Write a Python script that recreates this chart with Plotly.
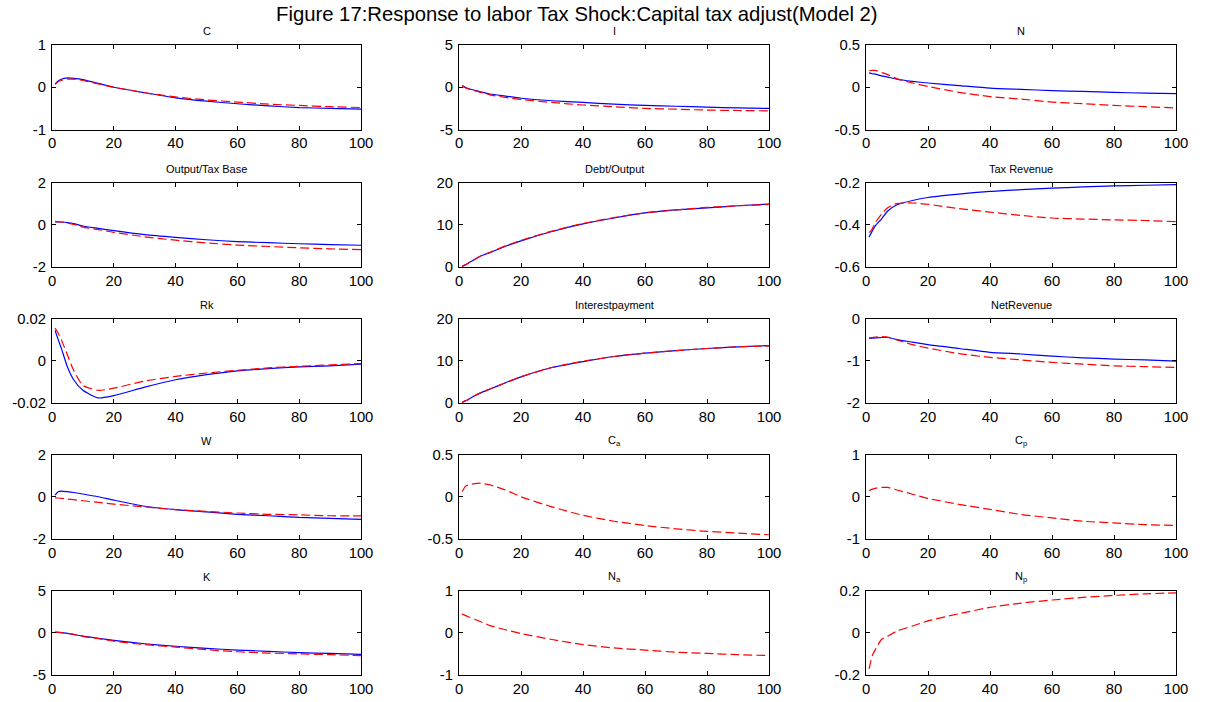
import plotly.graph_objects as go

periods = [1, 2, 3, 5, 7, 10, 15, 20, 30, 40, 50, 60, 70, 80, 90, 100]

titles = ["C", "I", "N",
          "Output/Tax Base", "Debt/Output", "Tax Revenue",
          "Rk", "Interestpayment", "NetRevenue",
          "W", "C<sub>a</sub>", "C<sub>p</sub>",
          "K", "N<sub>a</sub>", "N<sub>p</sub>"]

c_blue = [0.08, 0.15, 0.19, 0.22, 0.21, 0.18, 0.09, 0.0, -0.13, -0.25, -0.33, -0.39, -0.44, -0.48, -0.50, -0.52]
c_red = [0.07, 0.13, 0.16, 0.19, 0.19, 0.16, 0.08, 0.0, -0.13, -0.23, -0.30, -0.35, -0.40, -0.43, -0.46, -0.48]
i_blue = [0.2, 0.0, -0.15, -0.35, -0.55, -0.8, -1.05, -1.3, -1.6, -1.8, -2.0, -2.15, -2.25, -2.35, -2.45, -2.5]
i_red = [0.15, -0.05, -0.2, -0.4, -0.6, -0.9, -1.2, -1.45, -1.8, -2.1, -2.3, -2.5, -2.6, -2.7, -2.75, -2.8]
n_blue = [0.17, 0.16, 0.155, 0.135, 0.12, 0.095, 0.07, 0.05, 0.02, -0.01, -0.025, -0.04, -0.05, -0.06, -0.07, -0.075]
n_red = [0.195, 0.2, 0.2, 0.175, 0.15, 0.10, 0.05, 0.01, -0.06, -0.11, -0.14, -0.175, -0.195, -0.215, -0.23, -0.245]
otb_blue = [0.13, 0.14, 0.13, 0.1, 0.05, -0.06, -0.17, -0.28, -0.47, -0.6, -0.71, -0.8, -0.85, -0.9, -0.94, -0.97]
otb_red = [0.16, 0.15, 0.13, 0.08, 0.02, -0.11, -0.23, -0.36, -0.57, -0.73, -0.86, -0.96, -1.03, -1.09, -1.14, -1.18]
debt_blue = [0.15, 0.5, 0.9, 1.8, 2.6, 3.4, 4.9, 6.2, 8.4, 10.2, 11.6, 12.8, 13.5, 14.0, 14.5, 14.9]
debt_red = [0.15, 0.5, 0.9, 1.8, 2.6, 3.5, 5.0, 6.3, 8.5, 10.3, 11.7, 12.8, 13.5, 14.1, 14.5, 14.8]
tax_blue = [-0.458, -0.43, -0.405, -0.373, -0.335, -0.305, -0.285, -0.271, -0.255, -0.242, -0.234, -0.227, -0.221, -0.216, -0.213, -0.21]
tax_red = [-0.437, -0.42, -0.39, -0.35, -0.32, -0.30, -0.297, -0.303, -0.324, -0.34, -0.356, -0.368, -0.373, -0.377, -0.38, -0.385]
rk_blue = [0.0144, 0.010, 0.006, -0.003, -0.009, -0.014, -0.0176, -0.0165, -0.0125, -0.009, -0.0066, -0.0048, -0.0037, -0.0029, -0.0024, -0.0016]
rk_red = [0.0155, 0.013, 0.010, 0.0027, -0.0045, -0.0117, -0.014, -0.013, -0.0096, -0.0074, -0.0058, -0.0045, -0.0034, -0.0026, -0.002, -0.0013]
int_blue = [0.15, 0.5, 0.85, 1.7, 2.4, 3.3, 4.8, 6.2, 8.4, 9.8, 11.0, 11.8, 12.4, 12.9, 13.3, 13.6]
int_red = [0.15, 0.5, 0.85, 1.7, 2.4, 3.3, 4.8, 6.2, 8.4, 9.9, 11.0, 11.8, 12.4, 12.9, 13.3, 13.5]
net_blue = [-0.47, -0.465, -0.46, -0.45, -0.45, -0.5, -0.56, -0.62, -0.71, -0.8, -0.84, -0.89, -0.93, -0.96, -0.98, -1.01]
net_red = [-0.46, -0.45, -0.44, -0.43, -0.44, -0.51, -0.62, -0.7, -0.83, -0.92, -0.98, -1.04, -1.08, -1.12, -1.14, -1.16]
w_blue = [0.08, 0.24, 0.27, 0.24, 0.2, 0.13, 0.0, -0.16, -0.45, -0.61, -0.72, -0.83, -0.9, -0.98, -1.02, -1.07]
w_red = [-0.05, -0.06, -0.08, -0.11, -0.14, -0.19, -0.27, -0.35, -0.48, -0.61, -0.69, -0.77, -0.83, -0.86, -0.9, -0.91]
ca_red = [0.06, 0.12, 0.14, 0.155, 0.16, 0.14, 0.08, 0.0, -0.12, -0.22, -0.29, -0.34, -0.38, -0.41, -0.43, -0.45]
cp_red = [0.14, 0.18, 0.2, 0.22, 0.22, 0.16, 0.06, -0.04, -0.18, -0.3, -0.42, -0.5, -0.58, -0.62, -0.66, -0.68]
k_blue = [0.08, 0.05, 0.02, -0.08, -0.2, -0.4, -0.65, -0.9, -1.3, -1.6, -1.85, -2.05, -2.2, -2.35, -2.45, -2.55]
k_red = [0.08, 0.05, 0.02, -0.08, -0.2, -0.42, -0.7, -1.0, -1.4, -1.7, -2.0, -2.25, -2.4, -2.5, -2.6, -2.7]
na_red = [0.44, 0.41, 0.38, 0.32, 0.26, 0.17, 0.07, -0.02, -0.16, -0.28, -0.36, -0.41, -0.46, -0.49, -0.52, -0.54]
np_red = [-0.171, -0.11, -0.08, -0.032, -0.016, 0.008, 0.032, 0.056, 0.09, 0.12, 0.14, 0.155, 0.167, 0.177, 0.184, 0.189]

blue_series = [c_blue, i_blue, n_blue, otb_blue, debt_blue, tax_blue, rk_blue, int_blue,
               net_blue, w_blue, None, None, k_blue, None, None]
red_series = [c_red, i_red, n_red, otb_red, debt_red, tax_red, rk_red, int_red,
              net_red, w_red, ca_red, cp_red, k_red, na_red, np_red]

y_ticks = [[-1, 0, 1], [-5, 0, 5], [-0.5, 0, 0.5],
           [-2, 0, 2], [0, 10, 20], [-0.6, -0.4, -0.2],
           [-0.02, 0, 0.02], [0, 10, 20], [-2, -1, 0],
           [-2, 0, 2], [-0.5, 0, 0.5], [-1, 0, 1],
           [-5, 0, 5], [-1, 0, 1], [-0.2, 0, 0.2]]
y_tick_text = [["-1", "0", "1"], ["-5", "0", "5"], ["-0.5", "0", "0.5"],
               ["-2", "0", "2"], ["0", "10", "20"], ["-0.6", "-0.4", "-0.2"],
               ["-0.02", "0", "0.02"], ["0", "10", "20"], ["-2", "-1", "0"],
               ["-2", "0", "2"], ["-0.5", "0", "0.5"], ["-1", "0", "1"],
               ["-5", "0", "5"], ["-1", "0", "1"], ["-0.2", "0", "0.2"]]
x_ticks = [0, 20, 40, 60, 80, 100]

main_title = "Figure 17:Response to labor Tax Shock:Capital tax adjust(Model 2)"

# the page body margin is removed (post_script), so the figure fills the whole 1207x702 page
W, H = 1207, 702
col_px = [(52, 361), (459, 769), (866, 1176)]
row_px = [(45, 129.5), (182.5, 267), (318.5, 403), (454.5, 539), (590.5, 675)]


def fx(px):
    return px / W


def fy(py):
    return 1 - py / H


fig = go.Figure()
annotations = []
font_family = "Liberation Sans, Arial, sans-serif"

for k in range(15):
    r, c = divmod(k, 3)
    idx = "" if k == 0 else str(k + 1)
    xa, ya = "x" + idx, "y" + idx
    if blue_series[k] is not None:
        fig.add_trace(go.Scatter(x=periods, y=blue_series[k], mode="lines", xaxis=xa, yaxis=ya,
                                 line=dict(color="#0000ff", width=1.2, shape="spline", smoothing=0.6),
                                 showlegend=False, hoverinfo="skip"))
    fig.add_trace(go.Scatter(x=periods, y=red_series[k], mode="lines", xaxis=xa, yaxis=ya,
                             line=dict(color="#ff0000", width=1.2, dash="9px,4px", shape="spline", smoothing=0.6),
                             showlegend=False, hoverinfo="skip"))
    x0, x1 = col_px[c]
    t0, t1 = row_px[r]
    axis_common = dict(showline=True, linecolor="black", linewidth=1, mirror="allticks",
                       ticks="inside", ticklen=4, tickcolor="black", showgrid=False, zeroline=False,
                       automargin=False, tickfont=dict(family=font_family, size=14.8, color="black"))
    fig.layout["xaxis" + idx] = dict(domain=[fx(x0), fx(x1)], range=[0, 100], anchor=ya,
                                     tickvals=x_ticks, ticktext=[str(v) for v in x_ticks],
                                     ticklabelstandoff=0, **axis_common)
    yt = y_ticks[k]
    fig.layout["yaxis" + idx] = dict(domain=[fy(t1), fy(t0)], range=[yt[0], yt[-1]], anchor=xa,
                                     tickvals=yt, ticktext=y_tick_text[k],
                                     ticklabelstandoff=2, **axis_common)
    annotations.append(dict(text=titles[k], xref="paper", yref="paper",
                            x=fx((x0 + x1) / 2), y=fy(t0 - 14), xanchor="center", yanchor="middle",
                            showarrow=False, font=dict(family=font_family, size=11, color="black")))

annotations.append(dict(text=main_title, xref="paper", yref="paper", x=fx(577), y=fy(14.5),
                        xanchor="center", yanchor="middle", showarrow=False,
                        font=dict(family=font_family, size=20.3, color="black")))

fig.update_layout(width=W, height=H, margin=dict(l=0, r=0, t=0, b=0, autoexpand=False),
                  paper_bgcolor="white", plot_bgcolor="white", annotations=annotations)

page_js = "document.body.style.margin = '0'; document.documentElement.style.overflow = 'hidden';"

fig.write_html("out.html", post_script=page_js, config={"displayModeBar": False})
